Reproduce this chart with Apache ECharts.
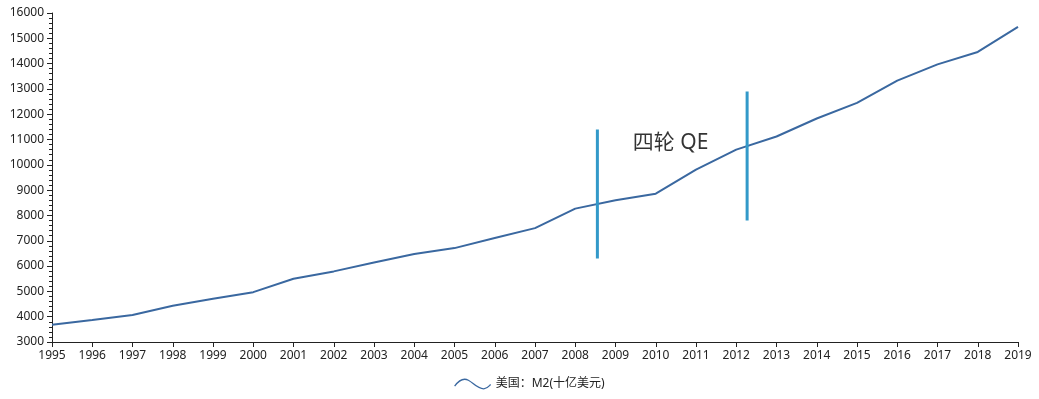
<!DOCTYPE html>
<html>
<head>
<meta charset="utf-8">
<script src="https://cdn.jsdelivr.net/npm/echarts@6/dist/echarts.min.js"></script>
<style>
  html, body { margin: 0; padding: 0; background: #fff; }
  #main { width: 1039px; height: 399px; }
</style>
</head>
<body>
<div id="main"></div>
<script>
// 年份
var years = ['1995', '1996', '1997', '1998', '1999', '2000', '2001', '2002', '2003', '2004', '2005', '2006',
  '2007', '2008', '2009', '2010', '2011', '2012', '2013', '2014', '2015', '2016', '2017', '2018', '2019'];
// 美国 M2 (十亿美元)
var m2 = [3680, 3870, 4070, 4430, 4710, 4970, 5500, 5790, 6140, 6480, 6710, 7110,
  7500, 8270, 8600, 8860, 9810, 10600, 11120, 11830, 12450, 13330, 13970, 14460, 15450];
// QE 标注竖线 [年份, 下端, 上端]
var qeLine1 = [2008.55, 6300, 11400];
var qeLine2 = [2012.27, 7800, 12900];
var qeText = [2010.37, 10880];

var lineColor = '#3a68a0';
var markColor = '#3399c9';
var axisColor = '#222';
var fontFam = '"Noto Sans", "Noto Sans CJK SC", sans-serif';

var myChart = echarts.init(document.getElementById('main'));
myChart.setOption({
  animation: false,
  textStyle: { fontFamily: fontFam },
  grid: { left: 52, right: 21, top: 13, bottom: 57 },
  legend: {
    data: ['美国：M2(十亿美元)'],
    left: 449,
    bottom: 4,
    itemWidth: 36,
    itemHeight: 11,
    itemGap: 9,
    icon: 'path://M0,10 C5,3 10,0 16,3 C22,6 26,13 34,13 C38,13 40,10 42,8',
    itemStyle: { color: 'transparent', borderColor: lineColor, borderWidth: 1.3 },
    textStyle: { color: '#222', fontSize: 12, fontFamily: fontFam }
  },
  xAxis: [{
    type: 'category',
    data: years,
    boundaryGap: false,
    axisLine: { lineStyle: { color: axisColor } },
    axisTick: { show: true, length: 5, lineStyle: { color: axisColor } },
    axisLabel: { color: '#222', fontSize: 12, margin: 8, interval: 0, fontFamily: fontFam },
    splitLine: { show: false }
  }, {
    type: 'value',
    min: 1995,
    max: 2019,
    show: false
  }],
  yAxis: {
    type: 'value',
    min: 3000,
    max: 16000,
    interval: 1000,
    axisLine: { show: true, lineStyle: { color: axisColor } },
    axisTick: { show: true, length: 5, lineStyle: { color: axisColor } },
    minorTick: { show: true, splitNumber: 5, length: 3, lineStyle: { color: axisColor } },
    axisLabel: {
      color: '#222', fontSize: 12, margin: 8, fontFamily: fontFam,
      formatter: function (v) { return String(v); }
    },
    splitLine: { show: false }
  },
  series: [{
    name: '美国：M2(十亿美元)',
    type: 'line',
    data: m2,
    showSymbol: false,
    symbol: 'none',
    lineStyle: { color: lineColor, width: 2 },
    itemStyle: { color: lineColor }
  }, {
    name: 'qe1',
    type: 'line',
    xAxisIndex: 1,
    data: [[qeLine1[0], qeLine1[1]], [qeLine1[0], qeLine1[2]]],
    symbol: 'none',
    lineStyle: { color: markColor, width: 3 }
  }, {
    name: 'qe2',
    type: 'line',
    xAxisIndex: 1,
    data: [[qeLine2[0], qeLine2[1]], [qeLine2[0], qeLine2[2]]],
    symbol: 'none',
    lineStyle: { color: markColor, width: 3 }
  }, {
    name: 'qeText',
    type: 'scatter',
    xAxisIndex: 1,
    symbolSize: 1,
    itemStyle: { color: 'transparent' },
    data: [qeText],
    label: {
      show: true,
      position: 'inside',
      formatter: '四轮 QE',
      color: '#000',
      fontSize: 21,
      fontFamily: fontFam
    }
  }]
});
</script>
</body>
</html>
